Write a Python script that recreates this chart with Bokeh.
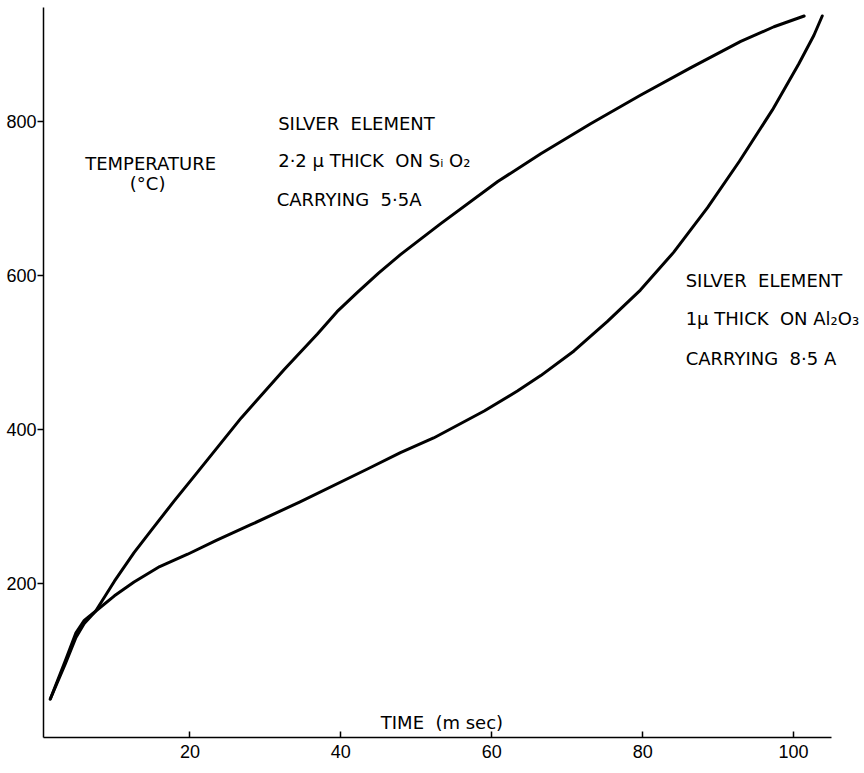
from bokeh.plotting import figure
from bokeh.models import FixedTicker, Label
from bokeh.embed import file_html
from bokeh.resources import INLINE

# Silver element 2.2 micron thick on SiO2, carrying 5.5 A
time_sio2 = [1.5, 3.5, 4.9, 6.0, 7.5, 10.0, 12.6, 14.8, 17.9, 20.8, 26.8, 32.5, 36.9,
             39.5, 42.2, 45.0, 47.9, 53.2, 60.8, 66.5, 73.1, 79.7, 86.4, 93.0, 97.4, 101.4]
temp_sio2 = [50, 96, 130, 148, 164, 203, 240, 268, 307, 342, 415, 478, 524,
             553, 578, 603, 627, 667, 722, 758, 797, 834, 870, 904, 923, 937]

# Silver element 1 micron thick on Al2O3, carrying 8.5 A
time_al2o3 = [1.5, 3.5, 4.9, 6.0, 7.5, 10.0, 12.6, 16.0, 19.7, 23.5, 28.0, 34.6, 43.6, 47.9,
              52.3, 59.0, 63.4, 66.5, 70.9, 75.3, 79.7, 84.1, 88.6, 92.8, 97.2,
              100.7, 102.7, 103.8]
temp_al2o3 = [50, 100, 136, 152, 164, 184, 202, 222, 238, 256, 276, 306, 349, 370,
              389, 424, 450, 470, 502, 540, 581, 630, 688, 748, 815,
              875, 912, 937]

x_ticks = [20, 40, 60, 80, 100]
y_ticks = [200, 400, 600, 800]

p = figure(width=864, height=773, x_range=(0.6, 109.4), y_range=(0, 948),
           output_backend="svg", toolbar_location=None,
           min_border_left=43, min_border_right=0, min_border_top=7, min_border_bottom=36)
p.outline_line_color = None
p.grid.visible = False
p.background_fill_color = "white"
p.border_fill_color = "white"

p.line(time_sio2, temp_sio2, line_color="black", line_width=3, line_join="round", line_cap="round")
p.line(time_al2o3, temp_al2o3, line_color="black", line_width=3, line_join="round", line_cap="round")

for ax in (p.xaxis[0], p.yaxis[0]):
    ax.axis_line_color = "black"
    ax.axis_line_width = 1.5
    ax.major_tick_line_color = "black"
    ax.major_tick_line_width = 1.5
    ax.minor_tick_line_color = None
    ax.major_label_text_font = "Liberation Sans"
    ax.major_label_text_font_size = "18px"
    ax.major_label_text_color = "black"

p.xaxis.ticker = FixedTicker(ticks=x_ticks)
p.yaxis.ticker = FixedTicker(ticks=y_ticks)
p.xaxis.bounds = (0.6, 105)
p.xaxis.major_tick_in = 6
p.xaxis.major_tick_out = 0
p.xaxis.major_label_standoff = 7
p.yaxis.major_tick_in = 0
p.yaxis.major_tick_out = 6
p.yaxis.major_label_standoff = 1

font = "DejaVu Sans"
fs = "18px"
S = "\u00a0 "

def lab(x, y, t, align="left"):
    p.add_layout(Label(x=x, y=y, text=t, text_font=font, text_font_size=fs,
                       text_color="black", text_align=align, text_baseline="middle"))

lab(14.8, 746, "TEMPERATURE", "center")
lab(14.4, 719, "(°C)", "center")

lab(31.7, 798, "SILVER" + S + "ELEMENT")
lab(31.7, 749, "2·2 μ THICK" + S + "ON Sᵢ O₂")
lab(31.5, 699, "CARRYING" + S + "5·5A")

lab(85.7, 593, "SILVER" + S + "ELEMENT")
lab(85.7, 544, "1μ THICK" + S + "ON Al₂O₃")
lab(85.7, 492, "CARRYING" + S + "8·5 A")

lab(45.3, 19, "TIME" + S + "(m sec)")

open("out.html", "w").write(file_html(p, INLINE))
